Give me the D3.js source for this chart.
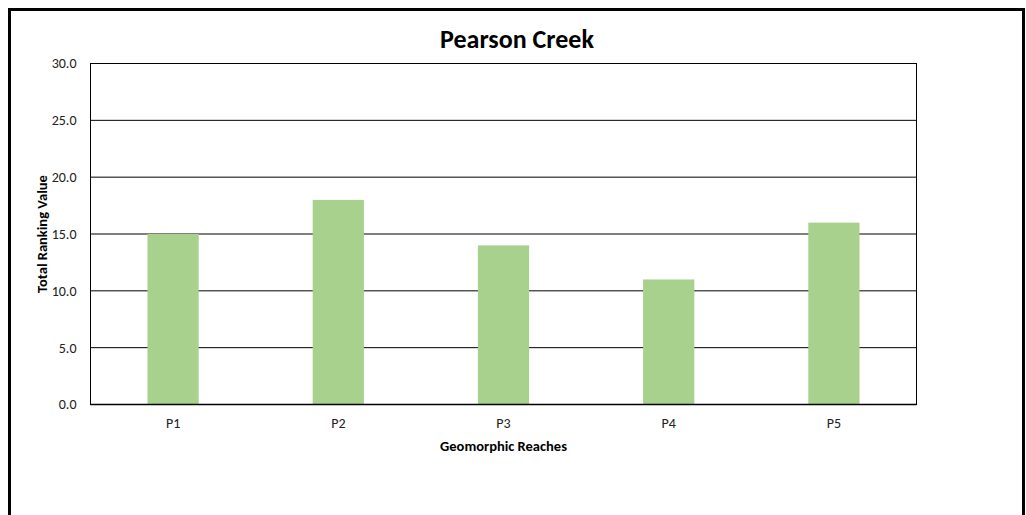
<!DOCTYPE html>
<html>
<head>
<meta charset="utf-8">
<script src="https://cdn.jsdelivr.net/npm/d3@7"></script>
<style>
  body { margin: 0; background: #fff; }
  svg { display: block; font-family: Calibri, Carlito, Lato, "Open Sans", sans-serif; }
</style>
</head>
<body>
<svg></svg>
<script>
var reaches = ["P1", "P2", "P3", "P4", "P5"];
var rankingValues = [15, 18, 14, 11, 16];
var yTicks = [0, 5, 10, 15, 20, 25, 30];

var width = 1026, height = 515;
var fontStack = "Calibri, Carlito, Lato, 'Open Sans', sans-serif";
var svg = d3.select("svg").attr("width", width).attr("height", height);

// outer chart frame
svg.append("rect")
    .attr("x", 9.5).attr("y", 9.5)
    .attr("width", 1014).attr("height", 520)
    .attr("fill", "#fff")
    .attr("stroke", "#000")
    .attr("stroke-width", 3);

var margin = {top: 63.5, right: 109.5, bottom: 110.5, left: 90.5};
var plotW = width - margin.left - margin.right;
var plotH = height - margin.top - margin.bottom;

var g = svg.append("g")
    .attr("transform", "translate(" + margin.left + "," + margin.top + ")");

var x = d3.scaleBand().domain(reaches).range([0, plotW]).paddingInner(0.69).paddingOuter(0.345);
var y = d3.scaleLinear().domain([0, 30]).range([plotH, 0]);

// gridlines
g.selectAll("line.grid")
    .data(yTicks.slice(1))
    .enter().append("line")
    .attr("class", "grid")
    .attr("x1", 0).attr("x2", plotW)
    .attr("y1", function (d) { return y(d); })
    .attr("y2", function (d) { return y(d); })
    .attr("stroke", "#000")
    .attr("stroke-width", 1);

// bars
g.selectAll("rect.bar")
    .data(rankingValues)
    .enter().append("rect")
    .attr("class", "bar")
    .attr("x", function (d, i) { return x(reaches[i]); })
    .attr("y", function (d) { return y(d); })
    .attr("width", x.bandwidth())
    .attr("height", function (d) { return plotH - y(d); })
    .attr("fill", "#a9d18e");

// plot frame
g.append("rect")
    .attr("x", 0).attr("y", 0)
    .attr("width", plotW).attr("height", plotH)
    .attr("fill", "none")
    .attr("stroke", "#000")
    .attr("stroke-width", 1);
g.append("line")
    .attr("x1", 0).attr("x2", plotW)
    .attr("y1", plotH).attr("y2", plotH)
    .attr("stroke", "#000").attr("stroke-width", 1.5);

// y axis labels
var yAxis = g.append("g")
    .call(d3.axisLeft(y).tickValues(yTicks).tickFormat(d3.format(".1f")).tickSize(0).tickPadding(14));
yAxis.attr("font-family", fontStack).attr("font-size", 14);
yAxis.select(".domain").remove();
yAxis.selectAll("text").attr("fill", "#222");

// x axis labels
var xAxis = g.append("g")
    .attr("transform", "translate(0," + plotH + ")")
    .call(d3.axisBottom(x).tickSize(0).tickPadding(12));
xAxis.attr("font-family", fontStack).attr("font-size", 14);
xAxis.select(".domain").remove();
xAxis.selectAll("text").attr("fill", "#222").attr("y", 23.5).attr("dy", null);

// title
svg.append("text")
    .attr("x", 517).attr("y", 48)
    .attr("text-anchor", "middle")
    .attr("font-size", 26).attr("font-weight", "bold")
    .text("Pearson Creek");

// axis titles
svg.append("text")
    .attr("x", margin.left + plotW / 2).attr("y", 451)
    .attr("text-anchor", "middle")
    .attr("font-size", 14.5).attr("font-weight", "bold")
    .text("Geomorphic Reaches");

svg.append("text")
    .attr("transform", "translate(47," + (margin.top + plotH / 2) + ") rotate(-90)")
    .attr("text-anchor", "middle")
    .attr("font-size", 14.5).attr("font-weight", "bold")
    .text("Total Ranking Value");
</script>
</body>
</html>
